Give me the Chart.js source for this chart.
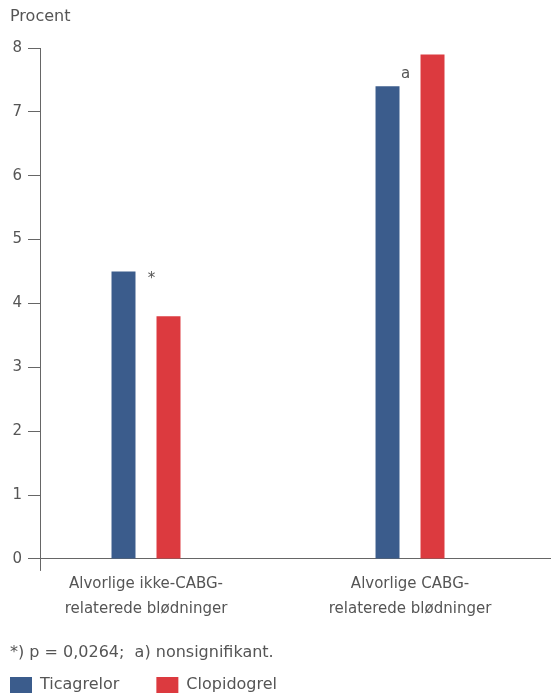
<!DOCTYPE html>
<html lang="da">
<head>
  <meta charset="UTF-8">
  <title>Blødninger</title>
  <script src="https://cdn.jsdelivr.net/npm/chart.js"></script>
  <style>
    html, body { margin: 0; padding: 0; background: #fff; }
    #wrap { width: 551px; height: 699px; }
  </style>
</head>
<body>
  <div id="wrap"><canvas id="myChart"></canvas></div>

  <script>
    // data
    const categories = [
      ['Alvorlige ikke-CABG-', 'relaterede blødninger'],
      ['Alvorlige CABG-', 'relaterede blødninger']
    ];
    const seriesNames = ['Ticagrelor', 'Clopidogrel'];
    const ticagrelor = [4.5, 7.4];
    const clopidogrel = [3.8, 7.9];
    const ticagrelorMarks = ['*', 'a'];
    const yTicks = [0, 1, 2, 3, 4, 5, 6, 7, 8];
    const footnote = '*) p = 0,0264;  a) nonsignifikant.';

    const fontFamily = "'DejaVu Sans', sans-serif";
    const textColor = '#555';
    const axisColor = '#666';
    const legendPadding = 37;

    // categories sit at x = 1, 2 on a linear axis so the gaps can be uneven
    const toPoints = (vals) => vals.map((v, i) => ({ x: i + 1, y: v }));

    // small marks ('*', 'a') next to the Ticagrelor bars
    const marksPlugin = {
      id: 'marks',
      afterDatasetsDraw(chart) {
        const ctx = chart.ctx;
        const meta = chart.getDatasetMeta(0);
        const offsets = [[16, 8], [6, -12]];
        ctx.save();
        ctx.fillStyle = textColor;
        ctx.font = '15px ' + fontFamily;
        ctx.textAlign = 'center';
        ctx.textBaseline = 'middle';
        meta.data.forEach((bar, i) => {
          const [dx, dy] = offsets[i];
          ctx.fillText(ticagrelorMarks[i], bar.x + bar.width / 2 + dx, bar.y + dy);
        });
        ctx.restore();
      }
    };

    // legend boxes start 10px from the left edge, despite the wide item padding
    const legendShift = {
      id: 'legendShift',
      afterLayout(chart) {
        if (chart.legend) chart.legend.left = 10 - legendPadding;
      }
    };

    const data = {
      datasets: [{
        label: seriesNames[0],
        data: toPoints(ticagrelor),
        backgroundColor: '#3b5c8c'
      }, {
        label: seriesNames[1],
        data: toPoints(clopidogrel),
        backgroundColor: '#dc3a3f'
      }]
    };

    const config = {
      type: 'bar',
      data: data,
      plugins: [marksPlugin, legendShift],
      options: {
        responsive: true,
        maintainAspectRatio: false,
        animation: false,
        categoryPercentage: 0.849,
        barPercentage: 0.533,
        layout: { padding: { left: 10, right: 0, top: 0, bottom: -4 } },
        plugins: {
          tooltip: { enabled: false },
          title: {
            display: true,
            text: 'Procent',
            align: 'start',
            color: textColor,
            font: { family: fontFamily, size: 16, weight: 'normal' },
            padding: { top: 7.4, bottom: 21.4 }
          },
          subtitle: {
            display: true,
            text: footnote,
            position: 'bottom',
            align: 'start',
            weight: 500,
            color: textColor,
            font: { family: fontFamily, size: 16 },
            padding: { top: 21, bottom: -22.6 }
          },
          legend: {
            position: 'bottom',
            align: 'start',
            labels: {
              color: textColor,
              font: { family: fontFamily, size: 16 },
              boxWidth: 22,
              boxHeight: 16,
              padding: legendPadding
            }
          }
        },
        scales: {
          x: {
            type: 'linear',
            offset: false,
            min: 0.5985,
            max: 2.534,
            afterBuildTicks: (s) => {
              s.ticks = [{ value: s.min }].concat(categories.map((c, i) => ({ value: i + 1 })));
            },
            ticks: {
              color: textColor,
              font: { family: fontFamily, size: 15, lineHeight: 1.65 },
              padding: 1,
              maxRotation: 0,
              autoSkip: false,
              callback: (v) => {
                const c = categories[Math.round(v) - 1];
                return Number.isInteger(v) && c ? c : '';
              }
            },
            grid: {
              offset: false,
              drawOnChartArea: false,
              tickLength: 12,
              color: (c) => (c.index === 0 ? axisColor : 'rgba(0,0,0,0)')
            },
            border: { color: axisColor, width: 1 }
          },
          y: {
            min: 0,
            max: 8,
            afterBuildTicks: (s) => { s.ticks = yTicks.map((v) => ({ value: v })); },
            afterFit: (s) => { s.width = 30; },
            ticks: {
              color: textColor,
              font: { family: fontFamily, size: 15 },
              padding: 6
            },
            grid: {
              drawOnChartArea: false,
              tickLength: 12,
              color: axisColor
            },
            border: { color: axisColor, width: 1 }
          }
        }
      }
    };

    new Chart(document.getElementById('myChart'), config);
  </script>
</body>
</html>
